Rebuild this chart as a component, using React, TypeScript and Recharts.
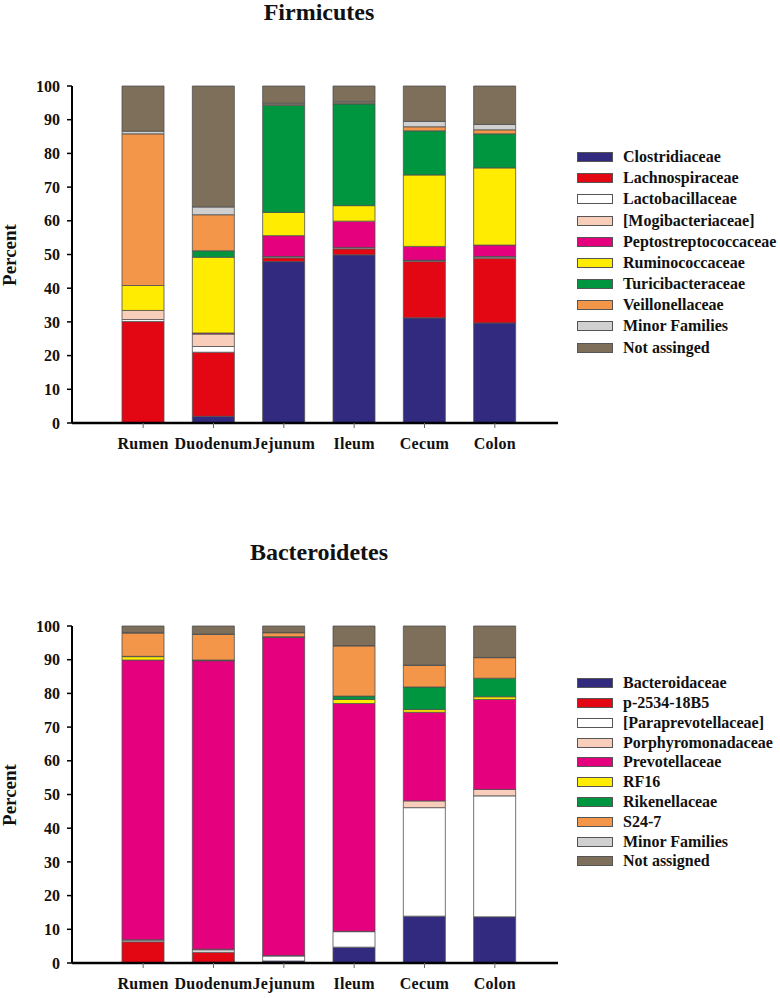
import React from 'react';
import { BarChart, Bar, XAxis, YAxis, Legend } from 'recharts';

const sites = ['Rumen', 'Duodenum', 'Jejunum', 'Ileum', 'Cecum', 'Colon'];
const yTicks = [0, 10, 20, 30, 40, 50, 60, 70, 80, 90, 100];
const palette = ['#312a7e', '#e30613', '#ffffff', '#f8cdb9', '#e5007e', '#ffec00', '#009640', '#f39649', '#d0d0d0', '#7d6f5a'];

// Firmicutes families (percent, bottom to top)
const firmNames = ['Clostridiaceae', 'Lachnospiraceae', 'Lactobacillaceae', '[Mogibacteriaceae]', 'Peptostreptococcaceae', 'Ruminococcaceae', 'Turicibacteraceae', 'Veillonellaceae', 'Minor Families', 'Not assinged'];
const clostridiaceae = [0, 2.0, 47.9, 49.9, 31.2, 29.7];
const lachnospiraceae = [30.1, 19.0, 1.1, 1.8, 16.7, 19.2];
const lactobacillaceae = [0.6, 1.7, 0.3, 0.3, 0.3, 0.3];
const mogibacteriaceae = [2.7, 3.7, 0.1, 0.1, 0.1, 0.2];
const peptostreptococcaceae = [0, 0.3, 6.2, 7.8, 4.1, 3.4];
const ruminococcaceae = [7.4, 22.5, 6.9, 4.6, 21.2, 22.9];
const turicibacteraceae = [0, 1.9, 31.8, 30.2, 13.1, 10.1];
const veillonellaceae = [45.0, 10.7, 0.3, 0.3, 1.2, 1.2];
const firmMinor = [0.8, 2.3, 0.3, 0.3, 1.6, 1.6];
const firmNotAssigned = [13.4, 35.9, 5.1, 4.7, 10.5, 11.4];
const firmSeries = [clostridiaceae, lachnospiraceae, lactobacillaceae, mogibacteriaceae, peptostreptococcaceae, ruminococcaceae, turicibacteraceae, veillonellaceae, firmMinor, firmNotAssigned];

// Bacteroidetes families (percent, bottom to top)
const bactNames = ['Bacteroidaceae', 'p-2534-18B5', '[Paraprevotellaceae]', 'Porphyromonadaceae', 'Prevotellaceae', 'RF16', 'Rikenellaceae', 'S24-7', 'Minor Families', 'Not assigned'];
const bacteroidaceae = [0, 0.2, 0.6, 4.7, 13.9, 13.7];
const p253418B5 = [6.3, 3.0, 0, 0, 0, 0];
const paraprevotellaceae = [0.5, 0.7, 1.5, 4.6, 32.2, 35.9];
const porphyromonadaceae = [0.1, 0.2, 0.1, 0.1, 2.0, 1.9];
const prevotellaceae = [83.0, 85.6, 94.4, 67.6, 26.3, 26.7];
const rf16 = [1.0, 0.1, 0.1, 1.2, 0.8, 0.8];
const rikenellaceae = [0.1, 0.1, 0.1, 1.0, 6.7, 5.5];
const s247 = [6.9, 7.6, 1.2, 14.9, 6.4, 6.1];
const bactMinor = [0.2, 0.1, 0.1, 0.1, 0.1, 0.1];
const bactNotAssigned = [1.9, 2.4, 1.9, 5.8, 11.6, 9.3];
const bactSeries = [bacteroidaceae, p253418B5, paraprevotellaceae, porphyromonadaceae, prevotellaceae, rf16, rikenellaceae, s247, bactMinor, bactNotAssigned];

const FONT = '"Liberation Serif", "Times New Roman", serif';

function buildRows(series: number[][]) {
  return sites.map((site, i) => {
    const row: Record<string, any> = { site };
    series.forEach((s, k) => {
      row['s' + k] = s[i];
    });
    return row;
  });
}

function makeLegend(names: string[], rowH: number) {
  return () => (
    <div style={{ fontFamily: FONT, fontWeight: 'bold', fontSize: 16, color: '#111' }}>
      {names.map((n, k) => (
        <div key={n} style={{ height: rowH, display: 'flex', alignItems: 'center', whiteSpace: 'nowrap' }}>
          <span style={{ display: 'inline-block', width: 34, height: 8, background: palette[k], border: '1px solid #555', marginRight: 10 }} />
          <span>{n}</span>
        </div>
      ))}
    </div>
  );
}

function StackChart({ series, names, height, marginBottom, legendTop, rowH }: any) {
  const data = buildRows(series);
  return (
    <BarChart width={780} height={height} data={data} margin={{ top: 86, right: 222, bottom: marginBottom, left: 12 }} barSize={42}>
      <XAxis
        dataKey="site"
        height={30}
        padding={{ left: 36, right: 28 }}
        axisLine={{ stroke: '#000', strokeWidth: 2.5 }}
        tickLine={{ stroke: '#666' }}
        tickSize={5}
        tickMargin={10}
        interval={0}
        tick={{ fontSize: 16, fontWeight: 'bold', fill: '#111', fontFamily: FONT, letterSpacing: 0.3 }}
      />
      <YAxis
        width={60}
        domain={[0, 100]}
        ticks={yTicks}
        interval={0}
        axisLine={{ stroke: '#000', strokeWidth: 2 }}
        tickLine={{ stroke: '#000', strokeWidth: 1.5 }}
        tickSize={5}
        tickMargin={7}
        tick={{ fontSize: 16, fontWeight: 'bold', fill: '#111', fontFamily: FONT }}
      />
      <Legend
        layout="vertical"
        align="center"
        verticalAlign="middle"
        content={makeLegend(names, rowH)}
        wrapperStyle={{ left: 577, top: legendTop, width: 200 }}
      />
      {series.map((s: number[], k: number) => (
        <Bar key={k} dataKey={'s' + k} name={names[k]} stackId="a" fill={palette[k]} stroke="#505050" strokeWidth={0.8} isAnimationActive={false} />
      ))}
    </BarChart>
  );
}

const titleStyle: React.CSSProperties = {
  position: 'absolute', left: 0, width: 638, textAlign: 'center', fontFamily: FONT, fontWeight: 'bold', fontSize: 24, lineHeight: '22px', color: '#111'
};
const percentStyle: React.CSSProperties = {
  position: 'absolute', left: 10, width: 0, height: 0, fontFamily: FONT, fontWeight: 'bold', fontSize: 19, color: '#111'
};

export default function App() {
  return (
    <div style={{ position: 'absolute', left: 0, top: 0, width: 780, height: 998, background: '#fff', overflow: 'hidden', fontFamily: FONT }}>
      <div style={{ position: 'absolute', left: 0, top: 0 }}>
        <StackChart series={firmSeries} names={firmNames} height={470} marginBottom={17} legendTop={146.4} rowH={21.2} />
      </div>
      <div style={{ position: 'absolute', left: 0, top: 540 }}>
        <StackChart series={bactSeries} names={bactNames} height={458} marginBottom={5} legendTop={133.4} rowH={19.8} />
      </div>
      <div style={{ ...titleStyle, top: 1 }}>Firmicutes</div>
      <div style={{ ...titleStyle, top: 541 }}>Bacteroidetes</div>
      <div style={{ ...percentStyle, top: 254.5 }}>
        <div style={{ position: 'absolute', transform: 'translate(-50%, -50%) rotate(-90deg)', whiteSpace: 'nowrap' }}>Percent</div>
      </div>
      <div style={{ ...percentStyle, top: 794.5 }}>
        <div style={{ position: 'absolute', transform: 'translate(-50%, -50%) rotate(-90deg)', whiteSpace: 'nowrap' }}>Percent</div>
      </div>
    </div>
  );
}
